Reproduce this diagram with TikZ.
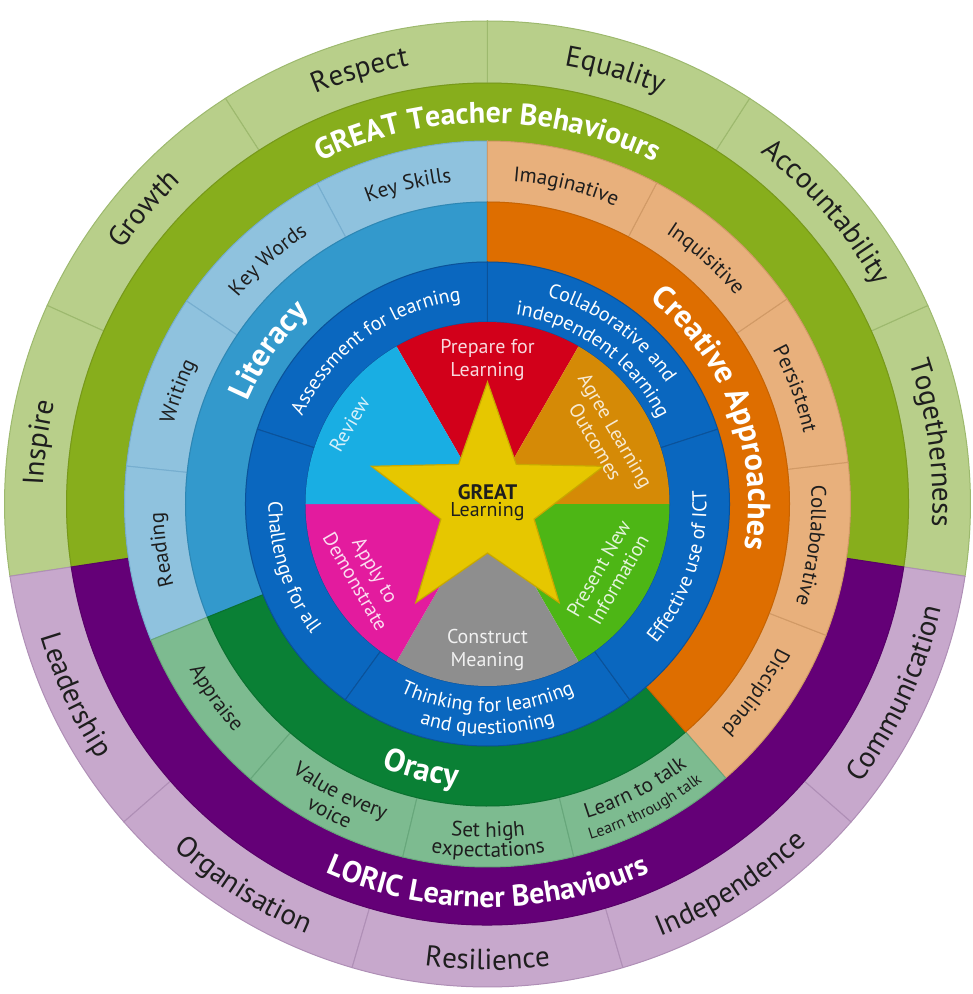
\documentclass[tikz,border=0pt]{standalone}
\usepackage{fontspec}
\setmainfont{PT Sans}
\usetikzlibrary{decorations.text}
\definecolor{ogreen}{HTML}{B8CF8A}
\definecolor{ogreenE}{HTML}{9DB96E}
\definecolor{dgreen}{HTML}{87AE1C}
\definecolor{lilac}{HTML}{C7A8CC}
\definecolor{lilacE}{HTML}{AF8FB6}
\definecolor{purp}{HTML}{640077}
\definecolor{lblue}{HTML}{8FC2DE}
\definecolor{lblueE}{HTML}{76AECF}
\definecolor{litblue}{HTML}{3399CC}
\definecolor{peach}{HTML}{E8B07C}
\definecolor{peachE}{HTML}{D19A66}
\definecolor{orng}{HTML}{DE6E00}
\definecolor{lgreen}{HTML}{7DBB90}
\definecolor{lgreenE}{HTML}{67A77B}
\definecolor{ograss}{HTML}{0A8035}
\definecolor{bring}{HTML}{0A67BF}
\definecolor{bringE}{HTML}{0A529A}
\definecolor{pred}{HTML}{D2001A}
\definecolor{pochre}{HTML}{D58A06}
\definecolor{pgreen}{HTML}{4DB615}
\definecolor{pgray}{HTML}{8E8E8E}
\definecolor{pmag}{HTML}{E31B9E}
\definecolor{pcyan}{HTML}{19AEE3}
\definecolor{staryel}{HTML}{E6C700}
\definecolor{stared}{HTML}{C8A800}
\definecolor{txt}{HTML}{1E1E1E}
\newcommand\fOut{\fontsize{29}{29}\selectfont}
\newcommand\fBand{\fontsize{30}{30}\selectfont\bfseries}
\newcommand\fSub{\fontsize{21}{21}\selectfont}
\newcommand\fSmall{\fontsize{16}{16}\selectfont}
\newcommand\fBig{\fontsize{32}{32}\selectfont\bfseries}
\newcommand\fRing{\fontsize{20}{20}\selectfont}
% fill, edge, start, end, rin, rout
\newcommand\ringsec[6]{%
  \path[fill=#1, draw=#2, line width=1] (#3:#6) arc[start angle=#3, end angle=#4, radius=#6]
     -- (#4:#5) arc[start angle=#4, end angle=#3, radius=#5] -- cycle;}
% radius, mid, halfspan, font, color, text : clockwise (tops outward)
\newcommand\cwtext[6]{%
  \path[decorate, decoration={text along path, text align=center, text color=#5, text={|#4|#6}}]
     ({#2+#3}:#1) arc[start angle={#2+#3}, end angle={#2-#3}, radius=#1];}
% counter-clockwise (tops inward)
\newcommand\ccwtext[6]{%
  \path[decorate, decoration={text along path, text align=center, text color=#5, text={|#4|#6}}]
     ({#2-#3}:#1) arc[start angle={#2-#3}, end angle={#2+#3}, radius=#1];}
\tikzset{ptext/.style={align=center, font=\fontsize{20}{23}\selectfont, inner sep=0pt}}
\begin{document}
\begin{tikzpicture}[x=1pt,y=1pt]
\useasboundingbox (-487.5,-490) rectangle (485.5,504);
% ---- outer ring
\foreach \a/\b in {-8.6/24.27, 24.27/57.13, 57.13/90, 90/122.87, 122.87/155.73, 155.73/188.6}
  {\ringsec{ogreen}{ogreenE}{\a}{\b}{421}{483}}
\foreach \a/\b in {188.6/221.16, 221.16/253.72, 253.72/286.28, 286.28/318.84, 318.84/351.4}
  {\ringsec{lilac}{lilacE}{\a}{\b}{421}{483}}
% ---- behaviour bands
\ringsec{dgreen}{dgreen!88!black}{-8.6}{188.6}{363}{421}
\ringsec{purp}{purp!88!black}{188.6}{351.4}{363}{421}
% ---- sub ring
\foreach \a/\b in {90/118, 118/146, 146/174, 174/202}
  {\ringsec{lblue}{lblueE}{\a}{\b}{302}{363}}
\foreach \a/\b in {-49/-21.2, -21.2/6.6, 6.6/34.4, 34.4/62.2, 62.2/90}
  {\ringsec{peach}{peachE}{\a}{\b}{302}{363}}
\foreach \a/\b in {202/229.25, 229.25/256.5, 256.5/283.75, 283.75/311}
  {\ringsec{lgreen}{lgreenE}{\a}{\b}{302}{363}}
% ---- theme bands
\ringsec{litblue}{litblue!88!black}{90}{202}{242}{302}
\ringsec{ograss}{ograss!88!black}{202}{311}{242}{302}
\ringsec{orng}{orng!90!black}{-49}{90}{242}{302}
% ---- blue ring
\foreach \a/\b in {18/90, 90/162, 162/234, 234/306, 306/378}
  {\ringsec{bring}{bringE}{\a}{\b}{182}{242}}
% ---- pie
\fill[pred]   (0,0) -- (60:182)   arc[start angle=60,  end angle=120, radius=182] -- cycle;
\fill[pochre] (0,0) -- (0:182)    arc[start angle=0,   end angle=60,  radius=182] -- cycle;
\fill[pgreen] (0,0) -- (-60:182)  arc[start angle=-60, end angle=0,   radius=182] -- cycle;
\fill[pgray]  (0,0) -- (240:182)  arc[start angle=240, end angle=300, radius=182] -- cycle;
\fill[pmag]   (0,0) -- (180:182)  arc[start angle=180, end angle=240, radius=182] -- cycle;
\fill[pcyan]  (0,0) -- (120:182)  arc[start angle=120, end angle=180, radius=182] -- cycle;
% ---- star
\path[fill=staryel, draw=stared, line width=1.2]
  (90:122) -- (126:49) -- (162:122) -- (198:49) -- (234:122) -- (270:49)
  -- (306:122) -- (342:49) -- (18:122) -- (54:49) -- cycle;
\node[ptext, text=txt, font=\fontsize{21}{24}\selectfont\bfseries] (great) at (0,12) {GREAT};
\node[ptext, text=txt, font=\fontsize{20}{24}\selectfont] (learning) at (0,-8) {Learning};
% ---- pie texts
\node[ptext, text=white!85!pred] (prepare) at (0,144) {Prepare for\\Learning};
\node[ptext, text=white!82!pochre, rotate=-60] (agree) at (118,68) {Agree Learning\\Outcomes};
\node[ptext, text=white!85!pgreen, rotate=60] (present) at (121,-70) {Present New\\Information};
\node[ptext, text=white!88!pgray] (construct) at (0,-146) {Construct\\Meaning};
\node[ptext, text=white!85!pmag, rotate=-60] (apply) at (-122,-72) {Apply to\\Demonstrate};
\node[ptext, text=white!82!pcyan, rotate=60] (review) at (-138,80) {Review};
% ---- outer ring texts
\cwtext{445}{172.2}{40}{\fOut}{txt}{Inspire}
\cwtext{445}{139.3}{40}{\fOut}{txt}{Growth}
\cwtext{445}{106.4}{40}{\fOut}{txt}{Respect}
\cwtext{445}{73.6}{40}{\fOut}{txt}{Equality}
\cwtext{445}{40.7}{40}{\fOut}{txt}{Accountability}
\cwtext{445}{7.8}{40}{\fOut}{txt}{Togetherness}
\ccwtext{466}{204.9}{40}{\fOut}{txt}{Leadership}
\ccwtext{466}{237.4}{40}{\fOut}{txt}{Organisation}
\ccwtext{466}{270}{40}{\fOut}{txt}{Resilience}
\ccwtext{466}{302.6}{40}{\fOut}{txt}{Independence}
\ccwtext{466}{335.1}{40}{\fOut}{txt}{Communication}
% ---- band titles
\cwtext{381}{90}{60}{\fBand}{white}{GREAT Teacher Behaviours}
\ccwtext{403}{270}{60}{\fBand}{white}{LORIC Learner Behaviours}
% ---- sub ring texts
\cwtext{324}{104}{25}{\fSub}{txt}{Key Skills}
\cwtext{324}{132}{25}{\fSub}{txt}{Key Words}
\cwtext{324}{160}{25}{\fSub}{txt}{Writing}
\cwtext{324}{188}{25}{\fSub}{txt}{Reading}
\cwtext{324}{76.1}{25}{\fSub}{txt}{Imaginative}
\cwtext{324}{48.3}{25}{\fSub}{txt}{Inquisitive}
\cwtext{324}{20.5}{25}{\fSub}{txt}{Persistent}
\cwtext{324}{-7.3}{25}{\fSub}{txt}{Collaborative}
\cwtext{324}{-35.1}{25}{\fSub}{txt}{Disciplined}
\ccwtext{341}{215.6}{25}{\fSub}{txt}{Appraise}
\ccwtext{332}{242.9}{25}{\fSub}{txt}{Value every}
\ccwtext{354}{242.9}{25}{\fSub}{txt}{voice}
\ccwtext{333}{270.1}{25}{\fSub}{txt}{Set high}
\ccwtext{353}{270.1}{25}{\fSub}{txt}{expectations}
\ccwtext{330}{297.4}{25}{\fSub}{txt}{Learn to talk}
\ccwtext{351}{297.4}{25}{\fSmall}{txt}{Learn through talk}
% ---- theme titles
\cwtext{261}{145}{40}{\fBig}{white}{Literacy}
\cwtext{261}{20.8}{50}{\fBig}{white}{Creative Approaches}
\ccwtext{284}{256}{40}{\fBig}{white}{Oracy}
% ---- blue ring texts
\cwtext{205}{126}{45}{\fRing}{white}{Assessment for learning}
\cwtext{216}{54}{45}{\fRing}{white}{Collaborative and}
\cwtext{191}{54}{45}{\fRing}{white}{independent learning}
\ccwtext{219}{198}{45}{\fRing}{white}{Challenge for all}
\ccwtext{208}{270}{45}{\fRing}{white}{Thinking for learning}
\ccwtext{230}{270}{45}{\fRing}{white}{and questioning}
\ccwtext{219}{342}{45}{\fRing}{white}{Effective use of ICT}
\end{tikzpicture}
\end{document}
